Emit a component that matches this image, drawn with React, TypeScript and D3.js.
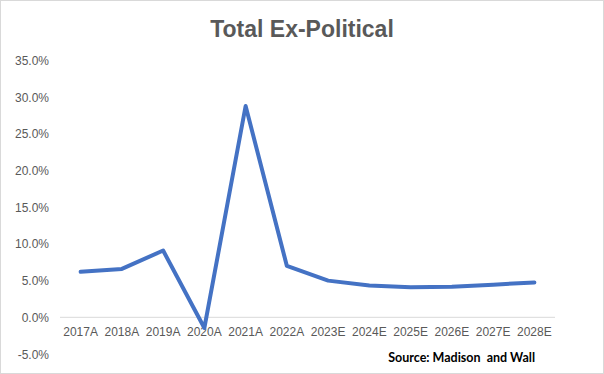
import React from "react";
import * as d3 from "d3";

const categories = ["2017A","2018A","2019A","2020A","2021A","2022A","2023E","2024E","2025E","2026E","2027E","2028E"];
const values = [6.2, 6.6, 9.1, -1.45, 28.8, 7.0, 5.0, 4.35, 4.1, 4.15, 4.45, 4.75];
const yTicks = [-5, 0, 5, 10, 15, 20, 25, 30, 35];
const title = "Total Ex-Political";
const source = "Source: Madison  and Wall";

const W = 604, H = 374;
const plot = { left: 60, right: 555, top: 60.5, bottom: 354 };

export default function App() {
  const x = d3.scaleBand().domain(categories).range([plot.left, plot.right]);
  const y = d3.scaleLinear().domain([-5, 35]).range([plot.bottom, plot.top]);
  const line = d3.line<number>()
    .x((_, i) => (x(categories[i]) as number) + x.bandwidth() / 2)
    .y((d) => y(d));
  const font = "'Liberation Sans', Arial, sans-serif";
  return (
    <div style={{ position: "fixed", left: 0, top: 0 }}>
      <svg width={W} height={H} style={{ display: "block", background: "#fff" }}>
        <rect x={0.5} y={0.5} width={W - 1} height={H - 1} fill="#fff" stroke="#d9d9d9" />
        <text x={W / 2} y={37} textAnchor="middle" fontFamily={font} fontWeight="bold" fontSize={23} fill="#595959">{title}</text>
        {yTicks.map((t) => (
          <text key={t} x={49} y={y(t) + 4.5} textAnchor="end" fontFamily={font} fontSize={12} fill="#595959">{t.toFixed(1) + "%"}</text>
        ))}
        <line x1={plot.left} x2={plot.right} y1={y(0)} y2={y(0)} stroke="#d9d9d9" strokeWidth={1} />
        {categories.map((c) => (
          <text key={c} x={(x(c) as number) + x.bandwidth() / 2} y={336} textAnchor="middle" fontFamily={font} fontSize={12} fill="#595959">{c}</text>
        ))}
        <path d={line(values) || ""} fill="none" stroke="#4472C4" strokeWidth={4} strokeLinejoin="round" strokeLinecap="round" />
        <text x={535} y={362} textAnchor="end" fontFamily="Lato, 'Open Sans', sans-serif" fontWeight="bold" fontSize={12.5} fill="#000" style={{ whiteSpace: "pre" }}>{source}</text>
      </svg>
    </div>
  );
}
